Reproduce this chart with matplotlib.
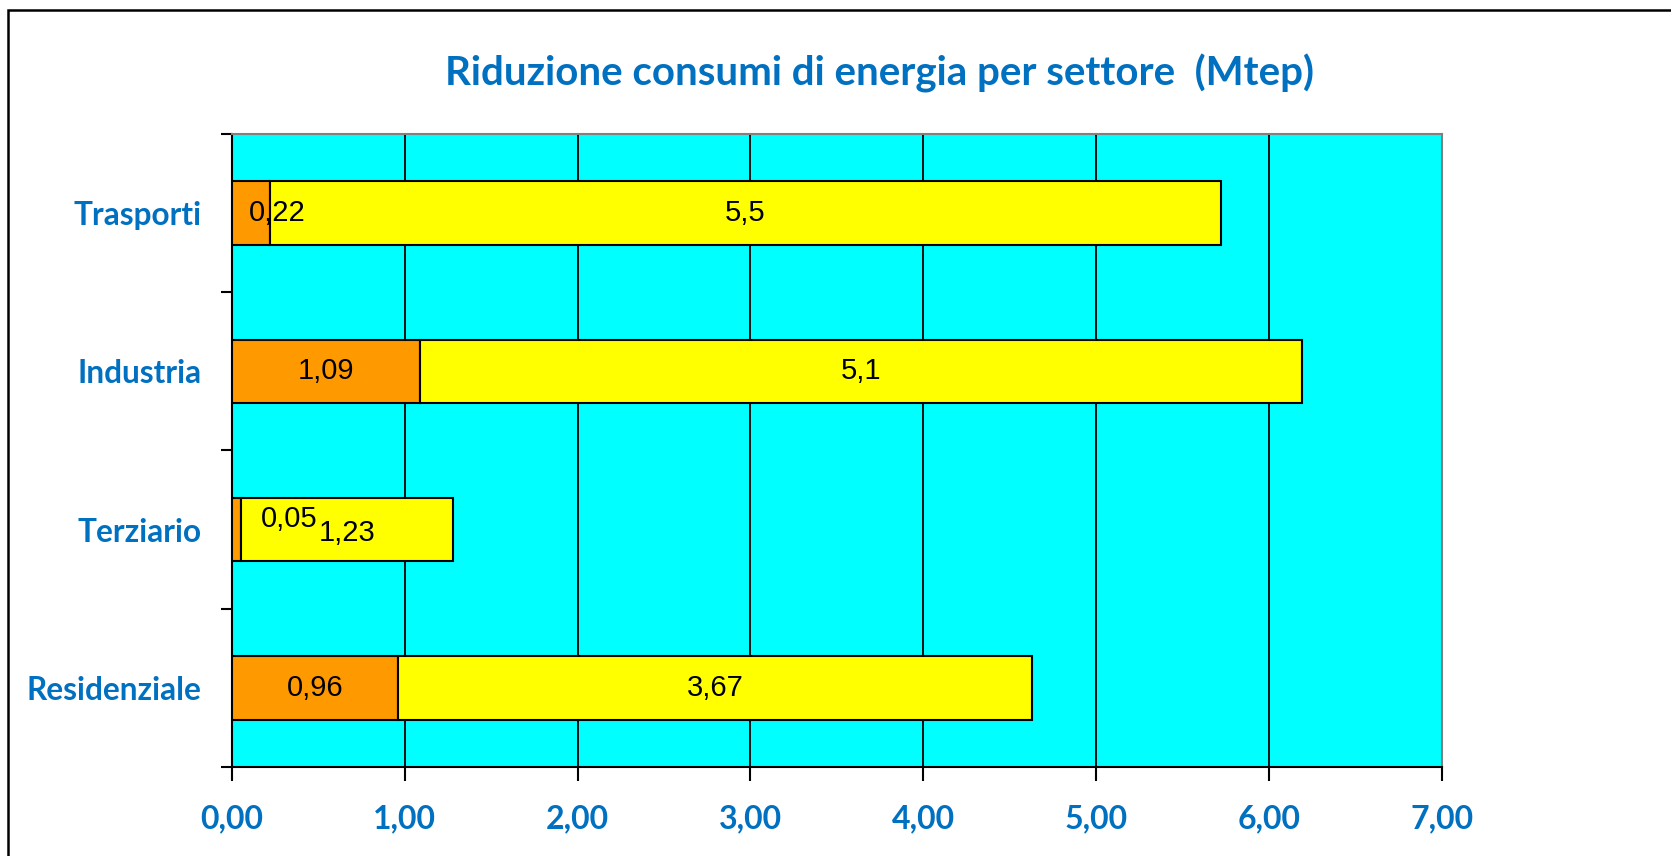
import matplotlib.pyplot as plt
from matplotlib.patches import Rectangle

settori = ['Residenziale', 'Terziario', 'Industria', 'Trasporti']
arancio = [0.96, 0.05, 1.09, 0.22]
giallo = [3.67, 1.23, 5.1, 5.5]
xticks = [0, 1, 2, 3, 4, 5, 6, 7]

blu = '#0070C0'
plt.rcParams['font.family'] = ['Lato', 'DejaVu Sans']

fig = plt.figure(figsize=(16.71, 8.56), dpi=100)
ax = fig.add_axes([0.1388, 0.104, 0.7241, 0.7395])
ax.set_facecolor('#00FFFF')

y = list(range(len(settori)))
ax.barh(y, arancio, height=0.4, color='#FF9900', edgecolor='black', linewidth=1.5, zorder=3)
ax.barh(y, giallo, left=arancio, height=0.4, color='#FFFF00', edgecolor='black', linewidth=1.5, zorder=3)

lab = dict(fontsize=21, family='Liberation Sans', ha='center', va='center', zorder=4)
for i in y:
    a, g = arancio[i], giallo[i]
    ya = i
    xa = a / 2
    if a < 0.3:
        # piccoli segmenti: etichetta spostata a destra come in Excel
        xa = a + 0.28 if a < 0.1 else a + 0.04
        if a < 0.1:
            ya = i + 0.07
    ax.text(xa, ya, ('%g' % a).replace('.', ','), **lab)
    ax.text(a + g / 2, i - (0.02 if a < 0.1 else 0), ('%g' % g).replace('.', ','), **lab)

ax.set_xlim(0, 7)
ax.set_ylim(-0.5, len(settori) - 0.5)
ax.set_xticks(xticks)
ax.set_xticklabels([('%.2f' % v).replace('.', ',') for v in xticks])
ax.set_yticks(y)
ax.set_yticklabels(settori)
ax.set_yticks([v - 0.5 for v in range(len(settori) + 1)], minor=True)
ax.tick_params(axis='y', which='major', length=0, pad=22, labelsize=22.8, labelcolor=blu)
ax.tick_params(axis='y', which='minor', length=8, width=1.5, direction='out')
ax.tick_params(axis='x', length=10, width=1.5, direction='out', pad=17, labelsize=23, labelcolor=blu)
for t in ax.get_xticklabels() + ax.get_yticklabels():
    t.set_fontweight('bold')

ax.grid(axis='x', color='black', linewidth=1.3, zorder=1)
ax.set_axisbelow(True)
for s in ['top', 'right']:
    ax.spines[s].set_color('#808080')
    ax.spines[s].set_linewidth(1.5)
for s in ['left', 'bottom']:
    ax.spines[s].set_color('black')
    ax.spines[s].set_linewidth(1.5)

fig.text(0.5265, 0.914, 'Riduzione consumi di energia per settore  (Mtep)',
         ha='center', va='center', fontsize=29, fontweight='bold', color=blu)

fig.patches.append(Rectangle((8 / 1671, -0.1), 1.2, 1.1 - 10 / 856, transform=fig.transFigure,
                             fill=False, edgecolor='black', linewidth=1.8))

fig.savefig('out.png', dpi=100)
